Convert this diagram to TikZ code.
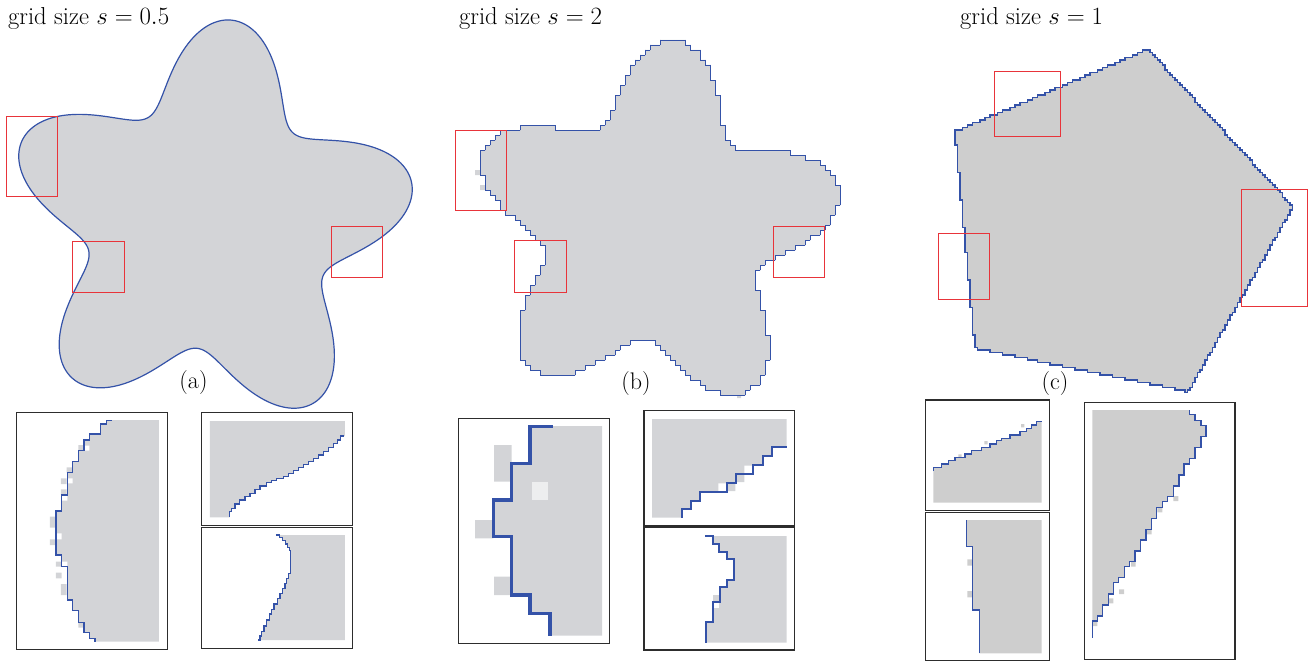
\documentclass[tikz,border=0pt]{standalone}
\definecolor{shapefill}{RGB}{211,212,215}
\definecolor{shapefillc}{RGB}{206,206,206}
\definecolor{edgeblue}{RGB}{52,82,168}
\definecolor{marker}{RGB}{232,52,58}
\definecolor{framecol}{RGB}{45,45,45}
\tikzset{
  outline/.style={draw=edgeblue, line width=1.1pt, line join=miter},
  roi/.style={draw=marker, line width=1pt},
  insetframe/.style={draw=framecol, line width=1.3pt},
  title/.style={anchor=base west, inner sep=0pt, font=\fontsize{24.5}{28}\selectfont},
  tag/.style={inner sep=0pt, font=\fontsize{24}{28}\selectfont},
}
% state of a grid cell of the pixelated star (0 outside the grid)
\newcommand\cellat[2]{\ifcsname sb@#1@#2\endcsname\csname sb@#1@#2\endcsname\else0\fi}
\begin{document}
\begin{tikzpicture}[x=1pt,y=-1pt]
\useasboundingbox (0,0) rectangle (1311,661);

% ---------- titles and tags ----------
\node[title] (ta) at (8,25) {grid size $s=0.5$};
\node[title] (tb) at (459,25) {grid size $s=2$};
\node[title] (tc) at (960,25) {grid size $s=1$};

% ---------- (a) smooth star ----------
\filldraw[fill=shapefill, outline, line width=1.2pt] plot[domain=0:360, samples=721, variable=\t]
  ({210+(165+41*cos(5*(\t-12)))*cos(\t)}, {225-(165+41*cos(5*(\t-12)))*sin(\t)}) -- cycle;
\draw[roi] (6,116) rectangle (57,196);
\draw[roi] (72,241) rectangle (124,292);
\draw[roi] (331,226) rectangle (382,277);
\node[tag] (la) at (193.5,383) {(a)};

% ---------- (b) star on a grid of 5 ----------
\foreach \j in {0,...,72}{%
  \gdef\rowcells{}%
  \foreach \i in {0,...,74}{%
    \pgfmathtruncatemacro\cellst{veclen(5*\i-177.5,5*\j-189.5)<150+38*cos(5*(atan2(189.5-5*\j,5*\i-177.5)-12))}%
    \expandafter\xdef\csname sb@\i @\j\endcsname{\cellst}%
    \ifnum\cellst=1
      \xdef\rowcells{\rowcells (\the\numexpr475+5*\i\relax,\the\numexpr35+5*\j\relax) rectangle ++(5,5.4)}%
    \fi
  }%
  \fill[shapefill] \rowcells;
}
\fill[shapefill] (480,150) rectangle (485,160) (475,170) rectangle (480,175) (480,185) rectangle (485,190) (737,393) rectangle (741,398);
\foreach \j in {0,...,72}{%
  \gdef\rowedges{}%
  \foreach \i in {0,...,74}{%
    \ifnum\cellat{\i}{\j}=1
      \edef\xa{\the\numexpr475+5*\i\relax}\edef\xb{\the\numexpr480+5*\i\relax}%
      \edef\ya{\the\numexpr35+5*\j\relax}\edef\yb{\the\numexpr40+5*\j\relax}%
      \ifnum\cellat{\the\numexpr\i-1\relax}{\j}=0 \xdef\rowedges{\rowedges (\xa,\ya)--(\xa,\yb)}\fi
      \ifnum\cellat{\the\numexpr\i+1\relax}{\j}=0 \xdef\rowedges{\rowedges (\xb,\ya)--(\xb,\yb)}\fi
      \ifnum\cellat{\i}{\the\numexpr\j-1\relax}=0 \xdef\rowedges{\rowedges (\xa,\ya)--(\xb,\ya)}\fi
      \ifnum\cellat{\i}{\the\numexpr\j+1\relax}=0 \xdef\rowedges{\rowedges (\xa,\yb)--(\xb,\yb)}\fi
    \fi
  }%
  \draw[outline, line width=0.95pt, line cap=rect] \rowedges;
}
\draw[roi] (455.7,130) rectangle (506.7,210.7);
\draw[roi] (514.7,240.7) rectangle (566,292.3);
\draw[roi] (773.3,226) rectangle (824.3,277.3);
\node[tag] (lb) at (636,384) {(b)};

% ---------- (c) pentagon on a grid of 2.5 ----------
\gdef\Rch{}\gdef\Lch{}\gdef\Start{}
\foreach \j in {1,...,137}{%
  \pgfmathsetmacro\yc{48.75+2.5*\j}%
  \pgfmathsetmacro\xl{\yc<131.7 ? 1148.3+((\yc-49.3)/82.4)*(-193.3) : (\yc<348.3 ? 955+((\yc-131.7)/216.6)*20 : 975+((\yc-348.3)/43.4)*213.3)}%
  \pgfmathsetmacro\xr{\yc<206.7 ? 1148.3+((\yc-49.3)/157.4)*145 : 1293.3-((\yc-206.7)/185)*105}%
  \pgfmathsetmacro\XL{2.5*ceil(\xl/2.5-0.5)}%
  \pgfmathsetmacro\XR{2.5*(floor(\xr/2.5-0.5)+1)}%
  \pgfmathsetmacro\yt{\yc-1.25}%
  \pgfmathsetmacro\yu{\yc+1.25}%
  \ifdim\XR pt>\XL pt
    \ifx\Start\empty \xdef\Start{(\XL,\yt)}\fi
    \xdef\Rch{\Rch -- (\XR,\yt) -- (\XR,\yu)}%
    \xdef\Lch{-- (\XL,\yu) -- (\XL,\yt) \Lch}%
  \fi
}
\filldraw[fill=shapefillc, outline] \Start \Rch \Lch -- cycle;
\draw[roi] (994,71) rectangle (1060,136.7);
\draw[roi] (938.7,233.3) rectangle (989.7,299);
\draw[roi] (1241.3,189.3) rectangle (1307.3,306.7);
\node[tag] (lc) at (1055,384) {(c)};

% ---------- close-ups of (a) ----------
\begin{scope}[shift={(0,400)}, scale=0.33333]
  \def\stairAL{(335,62) -- (320,62) -- (320,72) -- (302,72) -- (302,102) -- (268,102) -- (268,120) -- (252,120) -- (252,152) -- (235,152) -- (235,185) -- (218,185) -- (218,218) -- (202,218) -- (202,285) -- (185,285) -- (185,333) -- (168,333) -- (168,465) -- (185,465) -- (185,500) -- (202,500) -- (202,600) -- (218,600) -- (218,632) -- (235,632) -- (235,667) -- (252,667) -- (252,697) -- (268,697) -- (268,715) -- (285,715) -- (285,725)}
  \fill[shapefill] \stairAL -- (477,725) -- (477,60) -- (335,60) -- cycle;
  \fill[shapefill] (235,135) rectangle (252,152) (200,202) rectangle (218,218) (183,235) rectangle (200,252) (183,268) rectangle (200,285) (150,350) rectangle (168,383) (150,418) rectangle (168,435) (168,485) rectangle (185,500) (168,518) rectangle (185,535) (183,552) rectangle (200,585) (235,668) rectangle (250,683);
  \fill[white] (252,137) rectangle (268,152) (202,235) rectangle (218,250) (185,288) rectangle (202,302) (170,400) rectangle (185,418) (185,485) rectangle (202,500);
  \draw[outline, line width=1.3pt] \stairAL;
  \draw[insetframe] (50,37) rectangle (502,748);

  \def\stairAT{(688,352) |- (695,335) |- (705,325) |- (718,312) |- (735,300) |- (750,290) |- (765,280) |- (780,268) |- (800,258) |- (815,248) |- (830,242) |- (850,236) |- (865,230) |- (880,220) |- (895,212) |- (910,202) |- (925,193) |- (940,185) |- (955,175) |- (970,165) |- (985,155) |- (1000,142) |- (1012,130) |- (1022,120) |- (1033,108)}
  \fill[shapefill] \stairAT -- (1035,108) -- (1035,63) -- (630,63) -- (630,352) -- cycle;
  \draw[outline, line width=1.2pt] \stairAT;
  \draw[insetframe] (605,38) rectangle (1057,377);

  \def\stairAB{(828,405) -| (838,412) -| (848,422) -| (856,432) -| (862,442) -| (868,452) -| (872,462) -- (872,505) |- (866,520) |- (860,535) |- (855,550) |- (848,565) |- (840,580) |- (832,595) |- (822,612) |- (815,628) |- (808,642) |- (800,660) |- (792,678) |- (785,695) |- (780,708) |- (775,720)}
  \fill[shapefill] \stairAB -- (1035,720) -- (1035,405) -- cycle;
  \draw[outline, line width=1.2pt] \stairAB;
  \draw[insetframe] (605,382) rectangle (1057,745);
\end{scope}

% ---------- close-ups of (b) ----------
\begin{scope}[shift={(440,400)}, scale=0.33333]
  \def\stairBL{(338,80) -- (270,80) -- (270,190) -- (215,190) -- (215,300) -- (160,300) -- (160,410) -- (215,410) -- (215,585) -- (270,585) -- (270,640) -- (330,640) -- (330,707)}
  \fill[shapefill] \stairBL -- (486,707) -- (486,78) -- (338,78) -- cycle;
  \fill[shapefill] (162,135) rectangle (215,245) (105,360) rectangle (160,415) (162,530) rectangle (215,585);
  \fill[white!60!shapefill] (275,245) rectangle (325,300);
  \draw[outline, line width=3.6pt] \stairBL;
  \draw[insetframe] (55,55) rectangle (508,730);

  \def\stairBT{(725,353) |- (752,328) |- (780,302) |- (860,275) |- (888,248) |- (940,222) |- (968,195) |- (995,168) |- (1040,142)}
  \fill[shapefill] \stairBT -- (1040,57) -- (636,57) -- (636,353) -- cycle;
  \fill[white] (835,250) rectangle (858,273) (913,197) rectangle (937,220);
  \fill[shapefill] (862,250) rectangle (886,273) (890,225) rectangle (913,246);
  \draw[outline, line width=2.2pt] \stairBT;
  \draw[insetframe] (612,32) rectangle (1063,378);

  \def\stairBB{(795,408) -- (820,408) -- (820,433) -- (838,433) -- (838,455) -- (860,455) -- (860,477) -- (882,477) -- (882,540) -- (860,540) -- (860,562) -- (840,562) -- (840,605) -- (820,605) -- (820,665) -- (797,665) -- (797,728)}
  \fill[shapefill] \stairBB -- (1040,728) -- (1040,408) -- cycle;
  \fill[shapefill] (818,585) rectangle (838,603);
  \fill[white] (820,605) rectangle (838,625);
  \draw[outline, line width=2.2pt] \stairBB;
  \draw[insetframe] (612,383) rectangle (1063,750);
\end{scope}

% ---------- close-ups of (c) ----------
\begin{scope}[shift={(900,390)}, scale=0.33333]
  \def\stairCT{(100,243) |- (125,232) |- (145,222) |- (165,212) |- (195,202) |- (215,192) |- (245,182) |- (270,172) |- (290,162) |- (305,152) |- (330,145) |- (360,135) |- (380,125) |- (395,115) |- (410,105) |- (425,95)}
  \fill[shapefillc] \stairCT -- (425,338) -- (100,338) -- cycle;
  \fill[shapefillc] (363,102) rectangle (373,112) (253,153) rectangle (263,163) (175,193) rectangle (185,203);
  \draw[outline, line width=1.3pt] \stairCT;
  \draw[insetframe] (77,30) rectangle (448,362);

  \def\stairCB{(200,390) -- (200,470) -- (218,470) -- (218,660) -- (238,660) -- (238,790)}
  \fill[shapefillc] \stairCB -- (425,790) -- (425,390) -- cycle;
  \fill[shapefillc] (202,508) rectangle (218,527) (202,603) rectangle (218,622);
  \draw[outline, line width=1.3pt] \stairCB;
  \draw[insetframe] (77,367) rectangle (448,812);

  \def\stairCR{(868,60) -- (868,73) -- (885,73) -- (885,92) -- (903,92) -- (903,107) -- (918,107) -- (918,140) -- (903,140) -- (903,172) -- (885,172) -- (885,205) -- (868,205) -- (868,222) -- (852,222) -- (852,255) -- (837,255) -- (837,288) -- (820,288) -- (820,320) -- (803,320) -- (803,335) -- (788,335) -- (788,352) -- (770,352) -- (770,385) -- (755,385) -- (755,418) -- (738,418) -- (738,450) -- (722,450) -- (722,483) -- (705,483) -- (705,515) -- (688,515) -- (688,530) -- (673,530) -- (673,562) -- (655,562) -- (655,578) -- (640,578) -- (640,612) -- (625,612) -- (625,645) -- (607,645) -- (607,678) -- (592,678) -- (592,693) -- (577,693)}
  \fill[shapefillc] \stairCR -- (577,60) -- cycle;
  \fill[shapefillc] (820,318) rectangle (835,333) (772,352) rectangle (787,367) (740,418) rectangle (755,433) (693,515) rectangle (707,530) (657,598) rectangle (672,612) (625,625) rectangle (640,640) (577,693) rectangle (592,708);
  \draw[outline, line width=1.3pt] \stairCR -- (577,745);
  \draw[insetframe] (553,37) rectangle (1005,808);
\end{scope}
\end{tikzpicture}
\end{document}
